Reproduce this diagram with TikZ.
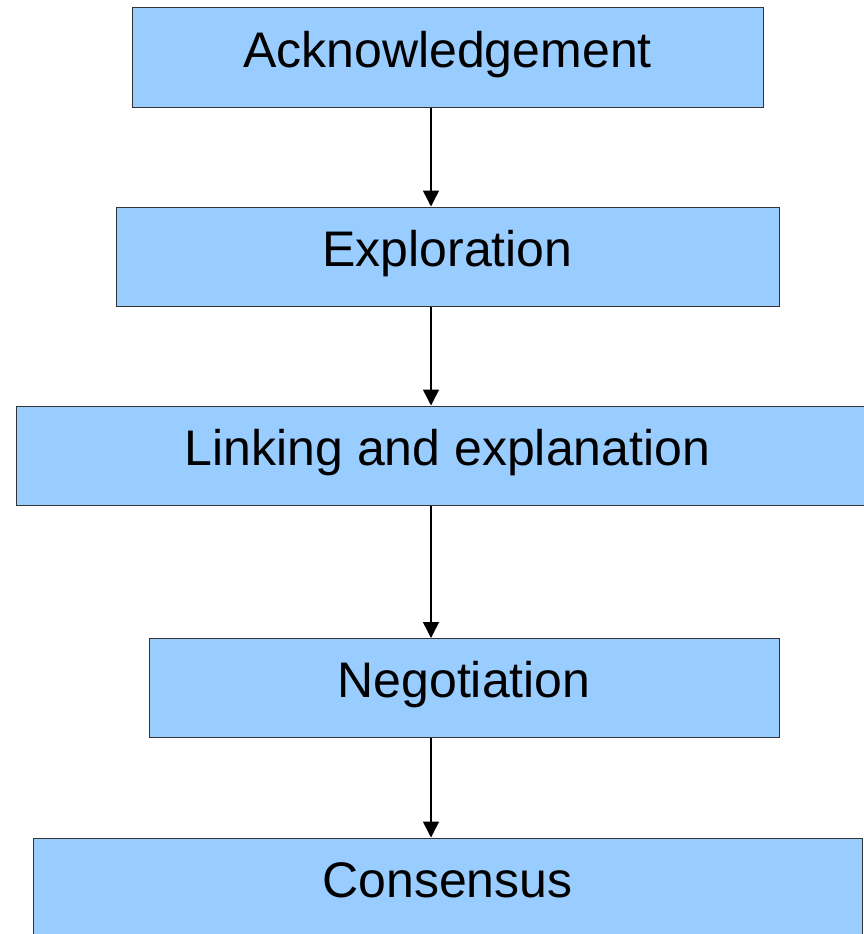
\documentclass[tikz,border=0pt]{standalone}
\usepackage{fontspec}
\setmainfont{Liberation Sans}
\usetikzlibrary{arrows.meta}
\definecolor{boxblue}{HTML}{99CCFF}
\definecolor{boxline}{HTML}{333333}
\begin{document}
\begin{tikzpicture}[x=1pt,y=-1pt,
		stage/.style={draw=boxline,line width=1pt,fill=boxblue,minimum height=99pt,inner sep=0pt,
			text height=36pt,text depth=17pt,font=\fontsize{50}{60}\selectfont},
		flow/.style={line width=1.5pt,-{Triangle[length=16pt,width=16pt]}}]
			\useasboundingbox (0,0) rectangle (864,934);
			\coordinate (axis) at (431,0);
			\node[stage,minimum width=631pt] (ack) at (447.5,57.5) {Acknowledgement};
			\node[stage,minimum width=663pt] (expl) at (447.5,256.5) {Exploration};
			\node[stage,minimum width=863pt] (link) at (447.5,455.5) {Linking and explanation};
			\node[stage,minimum width=630pt] (nego) at (464,688) {Negotiation};
			\node[stage,minimum width=829pt] (cons) at (447.5,887.5) {Consensus};
			\draw[flow] (ack.south -| axis)--(expl.north -| axis);
			\draw[flow] (expl.south -| axis)--(link.north -| axis);
			\draw[flow] (link.south -| axis)--(nego.north -| axis);
			\draw[flow] (nego.south -| axis)--(cons.north -| axis);
		\end{tikzpicture}
\end{document}
